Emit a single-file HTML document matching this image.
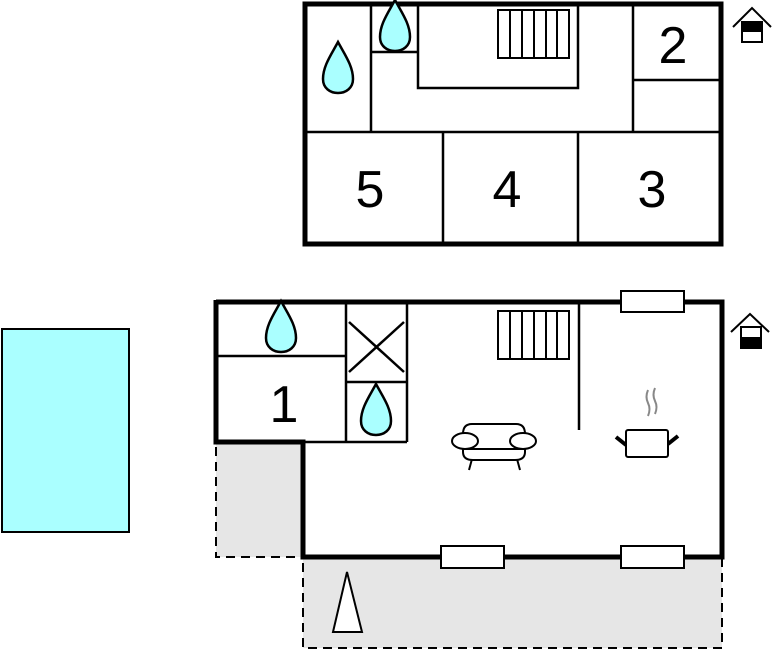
<!DOCTYPE html>
<html><head><style>body{margin:0;background:#fff}svg{display:block}</style></head><body>
<svg width="773" height="652" xmlns="http://www.w3.org/2000/svg" font-family="Liberation Sans, sans-serif">
<defs>
<path id="drop" d="M0,-28 C7,-15 15,-4 15,9 C15,18 8,23 0,23 C-8,23 -15,18 -15,9 C-15,-4 -7,-15 0,-28Z" fill="#aaffff" stroke="#000" stroke-width="2.5"/>
<g id="stairs" fill="#fff" stroke="#000" stroke-width="2"><rect x="0" y="0" width="71" height="48"/><line x1="12" y1="0" x2="12" y2="48"/><line x1="24" y1="0" x2="24" y2="48"/><line x1="36" y1="0" x2="36" y2="48"/><line x1="48" y1="0" x2="48" y2="48"/><line x1="59" y1="0" x2="59" y2="48"/></g>
</defs>
<rect x="2" y="329" width="127" height="203" fill="#aaffff" stroke="#000" stroke-width="2"/>
<g stroke="#000" fill="none">
<rect x="305" y="4" width="416" height="240" stroke-width="5"/>
<g stroke-width="2.5">
<line x1="371" y1="4" x2="371" y2="132"/>
<line x1="305" y1="132" x2="721" y2="132"/>
<line x1="371" y1="52" x2="418" y2="52"/>
<polyline points="418,4 418,88 578,88 578,4"/>
<line x1="633" y1="4" x2="633" y2="132"/>
<line x1="633" y1="80" x2="721" y2="80"/>
<line x1="443" y1="132" x2="443" y2="244"/>
<line x1="578" y1="132" x2="578" y2="244"/>
</g></g>
<use href="#stairs" x="498" y="10"/>
<use href="#drop" x="338" y="70"/>
<use href="#drop" x="395" y="28"/>
<g stroke="#000" stroke-width="2" fill="#fff">
<polyline points="733,27 752,8 771,27" fill="none"/>
<rect x="742" y="22" width="20" height="20"/><rect x="742" y="22" width="20" height="9" fill="#000"/>
<polyline points="731,332 750,314 769,332" fill="none"/>
<rect x="741" y="327" width="20" height="21"/><rect x="741" y="338" width="20" height="10" fill="#000"/>
</g>
<g fill="#e6e6e6" stroke="#000" stroke-width="2" stroke-dasharray="9,6">
<rect x="216" y="442" width="87" height="115"/>
<rect x="303" y="557" width="419" height="91"/>
</g>
<polygon points="347,572 333,632 362,632" fill="#fff" stroke="#000" stroke-width="2"/>
<rect x="216" y="302" width="506" height="140" fill="#fff"/><rect x="303" y="302" width="419" height="255" fill="#fff"/>
<g stroke="#000" fill="none">
<polyline points="216,302 722,302 722,557 303,557 303,442 216,442 216,300" stroke-width="5"/>
<g stroke-width="2.5">
<line x1="216" y1="356" x2="346" y2="356"/>
<line x1="346" y1="302" x2="346" y2="442"/>
<line x1="407" y1="302" x2="407" y2="442"/>
<line x1="346" y1="382" x2="407" y2="382"/>
<line x1="303" y1="442" x2="407" y2="442"/>
<line x1="349" y1="322" x2="404" y2="372"/><line x1="404" y1="322" x2="349" y2="372"/>
<line x1="579" y1="302" x2="579" y2="430"/>
</g></g>
<use href="#stairs" x="498" y="311"/>
<use href="#drop" x="281" y="329"/>
<use href="#drop" x="376" y="412"/>
<g fill="#fff" stroke="#000" stroke-width="2">
<rect x="621" y="291" width="63" height="21"/>
<rect x="441" y="546" width="63" height="22"/>
<rect x="621" y="546" width="63" height="22"/>
</g>
<g fill="#fff" stroke="#000" stroke-width="2">
<line x1="472" y1="459" x2="469" y2="470"/><line x1="517" y1="459" x2="520" y2="470"/>
<path d="M463,443 L463,434 Q463,424 472,424 L516,424 Q525,424 525,434 L525,443 L525,452 Q525,460 515,460 L473,460 Q463,460 463,452Z"/>
<line x1="463" y1="449" x2="525" y2="449"/>
<ellipse cx="465" cy="441" rx="13" ry="8"/><ellipse cx="523" cy="441" rx="13" ry="8"/>
</g>
<g stroke="#888" stroke-width="2" fill="none"><path d="M648,390 q-3,7 0,13 q3,6 0,13"/><path d="M655,388 q-3,7 0,13 q3,6 0,13"/></g>
<g stroke="#000">
<line x1="616" y1="437" x2="626" y2="445" stroke-width="4"/><line x1="678" y1="436" x2="668" y2="444" stroke-width="4"/>
<rect x="626" y="430" width="42" height="27" fill="#fff" stroke-width="2" rx="2"/>
</g>
<g font-size="52" text-anchor="middle">
<text x="673" y="63">2</text><text x="370" y="207">5</text><text x="507" y="207">4</text><text x="652" y="207">3</text>
<text x="284" y="422">1</text>
</g>
</svg>
</body></html>
